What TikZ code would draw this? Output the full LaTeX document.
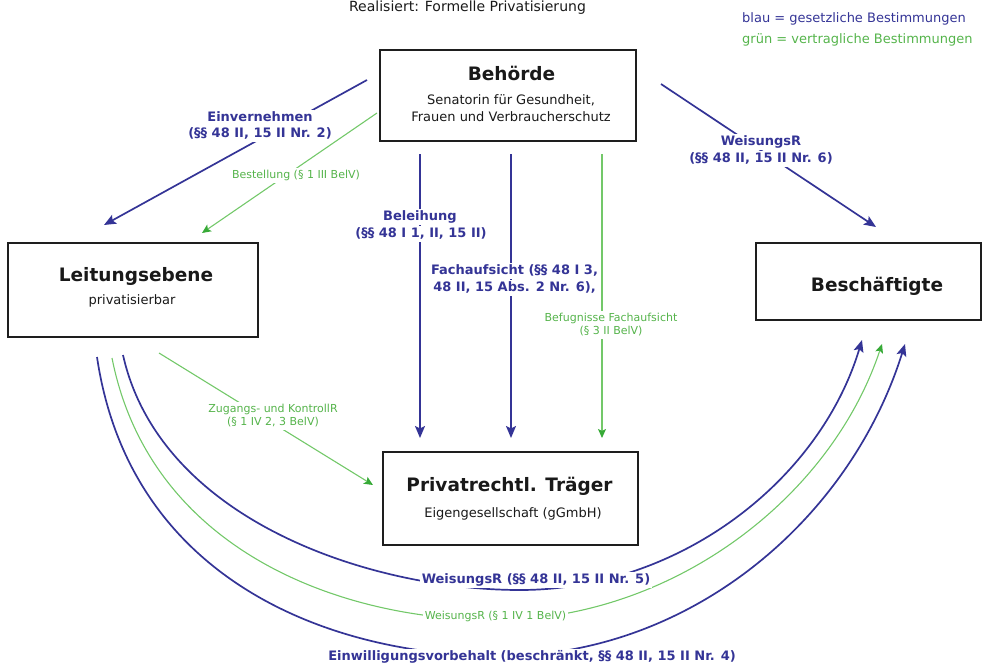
\documentclass[tikz,border=0pt]{standalone}
\usepackage{fontspec}
\setmainfont{DejaVu Sans}
\usetikzlibrary{arrows.meta}
\definecolor{lawblue}{RGB}{52,52,150}
\definecolor{contractgreen}{RGB}{115,200,105}
\definecolor{contracttip}{RGB}{55,170,55}
\definecolor{greentext}{RGB}{85,180,75}
\definecolor{boxline}{RGB}{30,30,30}
\definecolor{headtext}{RGB}{25,25,25}
\begin{document}
\begin{tikzpicture}[x=1pt,y=-1pt,
  box/.style={draw=boxline, line width=1.8pt, inner sep=0pt},
  headline/.style={font=\fontsize{18.5}{20}\selectfont\bfseries, text=headtext, anchor=base, inner sep=0pt},
  subline/.style={font=\fontsize{13}{16}\selectfont, text=headtext, anchor=base, inner sep=0pt},
  bluelabel/.style={font=\fontsize{13}{16}\selectfont\bfseries, text=lawblue, fill=white, inner sep=1.5pt, text height=10pt, text depth=3.5pt, anchor=base},
  greenlabel/.style={font=\fontsize{11}{14}\selectfont, text=greentext, fill=white, inner sep=1.5pt, text height=8.5pt, text depth=3pt, anchor=base},
  lawarrow/.style={draw=lawblue, line width=1.7pt, -{Stealth[length=12pt,width=10pt,inset=2.5pt]}},
  contractarrow/.style={draw=contractgreen, line width=1.1pt, -{Stealth[length=9pt,width=8pt,inset=2pt,color=contracttip]}}
]
\useasboundingbox (0,0) rectangle (986,664);

% title and legend
\node[subline, font=\fontsize{14}{16}\selectfont] (title) at (467.5,11) {Realisiert: Formelle Privatisierung};
\node[subline, anchor=base west, text=lawblue] (leg1) at (742,22.5) {blau = gesetzliche Bestimmungen};
\node[subline, anchor=base west, text=greentext] (leg2) at (742,43) {grün = vertragliche Bestimmungen};

% boxes
\node[box, minimum width=256pt, minimum height=91pt] (beh) at (508,95.5) {};
\node[box, minimum width=250pt, minimum height=94pt] (lei) at (133,290) {};
\node[box, minimum width=225pt, minimum height=77pt] (bes) at (868.5,281.5) {};
\node[box, minimum width=255pt, minimum height=93pt] (pri) at (510.5,498.5) {};

\node[headline] (behT) at (511.5,80) {Behörde};
\node[subline] (behS1) at (511,104) {Senatorin für Gesundheit,};
\node[subline] (behS2) at (511,121) {Frauen und Verbraucherschutz};
\node[headline] (leiT) at (136,281) {Leitungsebene};
\node[subline] (leiS) at (132,304) {privatisierbar};
\node[headline] (besT) at (877,291) {Beschäftigte};
\node[headline] (priT) at (509.5,491) {Privatrechtl. Träger};
\node[subline] (priS) at (513,517) {Eigengesellschaft (gGmbH)};

% connector end points
\coordinate (einS) at (367,80);   \coordinate (einE) at (104,225);
\coordinate (bstS) at (377,113);  \coordinate (bstE) at (202,233);
\coordinate (belS) at (420,154);  \coordinate (belE) at (420,438);
\coordinate (facS) at (511,154);  \coordinate (facE) at (511,438);
\coordinate (befS) at (602,154);  \coordinate (befE) at (602,438);
\coordinate (weiS) at (661,84);   \coordinate (weiE) at (876,227);
\coordinate (zugS) at (159,353);  \coordinate (zugE) at (373,485);
\coordinate (inS) at (123,355);   \coordinate (inE) at (862,340);
\coordinate (grS) at (112,358);   \coordinate (grE) at (882,344);
\coordinate (ouS) at (97,357);    \coordinate (ouE) at (905,344);

% straight connectors
\draw[lawarrow] (einS) -- (einE);
\draw[contractarrow] (bstS) -- (bstE);
\draw[lawarrow] (belS) -- (belE);
\draw[lawarrow] (facS) -- (facE);
\draw[contractarrow] (befS) -- (befE);
\draw[lawarrow] (weiS) -- (weiE);
\draw[contractarrow] (zugS) -- (zugE);

% curved connectors
\draw[lawarrow] (inS) .. controls (160,520) and (370,590) .. (520,590) .. controls (680,590) and (820,480) .. (inE);
\draw[contractarrow] (grS) .. controls (150,550) and (340,620) .. (495,620) .. controls (670,620) and (830,500) .. (grE);
\draw[lawarrow] (ouS) .. controls (130,580) and (330,656) .. (500,656) .. controls (690,656) and (850,520) .. (ouE);

% labels
\node[bluelabel] (einL1) at (260,121) {Einvernehmen};
\node[bluelabel] (einL2) at (260,137) {(§§ 48 II, 15 II Nr. 2)};
\node[greenlabel] (bstL) at (296,178) {Bestellung (§ 1 III BelV)};
\node[bluelabel] (belL1) at (420,220) {Beleihung};
\node[bluelabel] (belL2) at (421,237) {(§§ 48 I 1, II, 15 II)};
\node[bluelabel] (facL1) at (514.5,274) {Fachaufsicht (§§ 48 I 3,};
\node[bluelabel] (facL2) at (514.5,291) {48 II, 15 Abs. 2 Nr. 6),};
\node[greenlabel] (befL1) at (611,321) {Befugnisse Fachaufsicht};
\node[greenlabel] (befL2) at (611,334) {(§ 3 II BelV)};
\node[bluelabel] (weiL1) at (761,145) {WeisungsR};
\node[bluelabel] (weiL2) at (761,162) {(§§ 48 II, 15 II Nr. 6)};
\node[greenlabel] (zugL1) at (273,412) {Zugangs- und KontrollR};
\node[greenlabel] (zugL2) at (273,425) {(§ 1 IV 2, 3 BelV)};
\node[bluelabel] (inL) at (536,583) {WeisungsR (§§ 48 II, 15 II Nr. 5)};
\node[greenlabel] (grL) at (495.5,619) {WeisungsR (§ 1 IV 1 BelV)};
\node[bluelabel] (ouL) at (532,660) {Einwilligungsvorbehalt (beschränkt, §§ 48 II, 15 II Nr. 4)};
\end{tikzpicture}
\end{document}
